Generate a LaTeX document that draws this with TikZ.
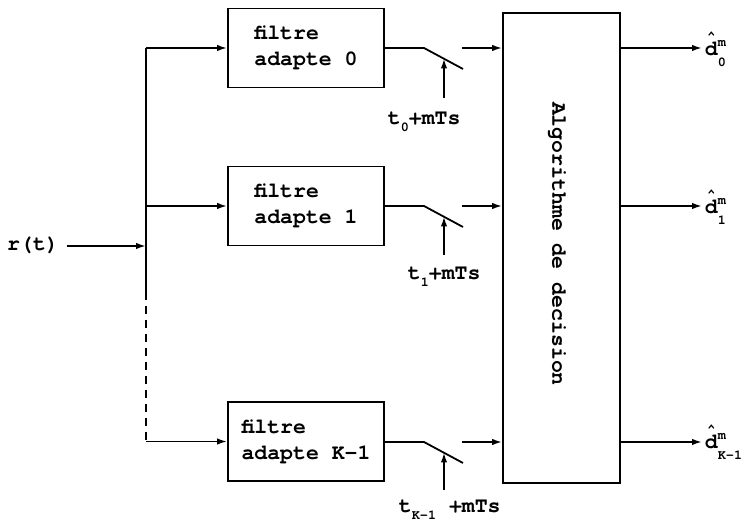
\documentclass[tikz,border=0pt]{standalone}
\usepackage{fontspec}
\setmainfont{texgyrecursor-bold.otf}
\usetikzlibrary{arrows.meta}
\newcommand{\subf}[1]{{\fontsize{13.5}{13.5}\selectfont #1}}
\newcommand{\dhat}[1]{\rlap{\hspace{2.4pt}\raisebox{15pt}{\subf{\char"5E}}}d\rlap{\raisebox{9pt}{\subf{m}}}\raisebox{-11pt}{\subf{#1}}}
\begin{document}
\begin{tikzpicture}[x=1pt,y=1pt,
  line width=1.8pt,
  font=\fontsize{21.5}{26}\selectfont,
  fbox/.style={draw, rectangle, minimum width=156pt, minimum height=79pt, inner sep=0pt, align=left},
  arr/.style={-{Latex[length=10pt,width=6.5pt]}},
  lbl/.style={inner sep=0pt, anchor=base west}
]
\useasboundingbox (0,0) rectangle (751,529);

% input
\node[inner sep=0pt] (rt) at (33,284) {r(t)};
\coordinate (bus) at (146,283);
\coordinate (rts) at (67,283);
\draw[arr] (rts) -- (bus);

% filter boxes
\node[fbox] (f0) at (306,481) {filtre\\adapte 0};
\node[fbox] (f1) at (306,323) {filtre\\adapte 1};
\node[fbox] (fk) at (306,87.5) {filtre\\adapte K-1};

% bus
\coordinate (bt) at (146,481);
\coordinate (bm) at (146,237);
\coordinate (bb) at (146,87.5);
\draw (bt) -- (bm);
\draw[dashed, dash pattern=on 8pt off 6pt] (bm) -- (bb);
\draw[arr] (bt) -- (f0.west);
\draw[arr] (146,323) -- (f1.west);
\draw[arr] (bb) -- (fk.west);

% decision box
\node[draw, rectangle, minimum width=117pt, minimum height=470pt, inner sep=0pt] (dec) at (561.5,281) {};
\node[rotate=-90, inner sep=0pt] (dtxt) at (557,285) {Algorithme de decision};

% switches
\foreach \n/\y/\ay in {0/481/431, 1/323/274, k/87/39}{
  \coordinate (a\n) at (424,\y);
  \coordinate (b\n) at (463,\y-21);
  \coordinate (s\n) at (444,\y-10.5);
  \coordinate (c\n) at (444,\ay);
  \coordinate (i\n) at (462,\y);
  \draw (f\n.east |- a\n) -- (a\n) -- (b\n);
  \draw[arr] (c\n) -- (s\n);
  \draw[arr] (i\n) -- (i\n -| dec.west);
  \coordinate (o\n) at (702,\y);
  \draw[arr] (dec.east |- o\n) -- (o\n);
}

% sampling labels
\node[lbl] (t0) at (387,404) {t\raisebox{-7pt}{\subf{0}}+mTs};
\node[lbl] (t1) at (407,249) {t\raisebox{-7pt}{\subf{1}}+mTs};
\node[lbl] (tk) at (398,16) {t\raisebox{-7pt}{\subf{K-1}} +mTs};

% outputs
\node[lbl] (d0) at (704,473) {\dhat{0}};
\node[lbl] (d1) at (704,315) {\dhat{1}};
\node[lbl] (dk) at (704,80) {\dhat{K-1}};
\end{tikzpicture}
\end{document}
